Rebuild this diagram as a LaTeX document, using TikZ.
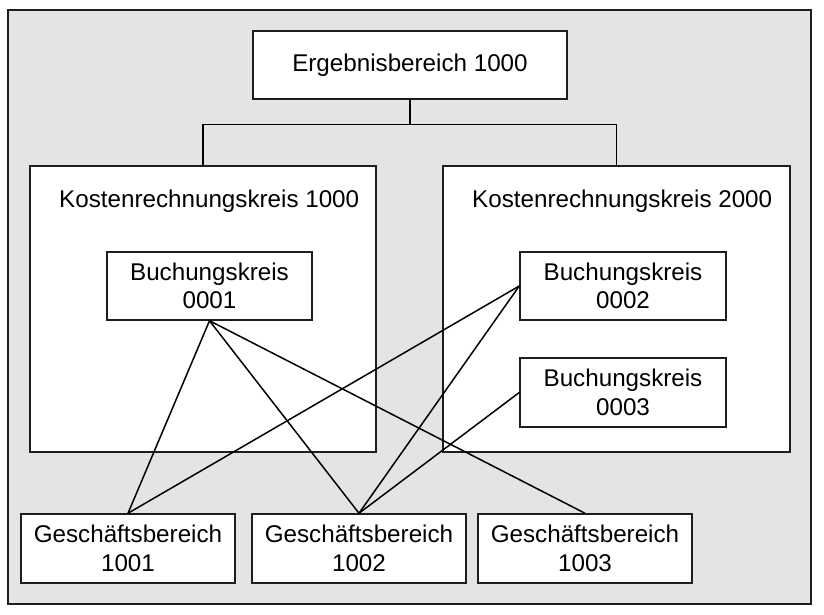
\documentclass[tikz,border=0pt]{standalone}
\usepackage{fontspec}
\setmainfont{Liberation Sans}
\definecolor{bggray}{HTML}{E4E4E4}
\definecolor{edge}{HTML}{1E1E1E}
\begin{document}
\begin{tikzpicture}[x=1pt,y=-1pt,
  every node/.style={font=\fontsize{24.2}{28.5}\selectfont},
  box/.style={draw=edge, line width=1.5pt, fill=white, rectangle, inner sep=0pt, align=center},
  link/.style={draw=black, line width=1.5pt}]
\useasboundingbox (0,0) rectangle (824,615);
\node[box, fill=bggray, minimum width=803pt, minimum height=594pt] (frame) at (409.5,307) {};
\node[box, minimum width=314pt, minimum height=68pt] (erg) at (410,65) {Ergebnisbereich 1000};
\node[box, minimum width=346pt, minimum height=286pt] (k1) at (203,309) {};
\node[box, minimum width=347pt, minimum height=286pt] (k2) at (616.5,309) {};
\node[anchor=base west, inner sep=0pt] (k1label) at (59,207) {Kostenrechnungskreis 1000};
\node[anchor=base west, inner sep=0pt] (k2label) at (472,207) {Kostenrechnungskreis 2000};
\node[box, minimum width=205pt, minimum height=68pt] (b1) at (209.5,286) {Buchungskreis\\0001};
\node[box, minimum width=206pt, minimum height=68pt] (b2) at (623,286) {Buchungskreis\\0002};
\node[box, minimum width=206pt, minimum height=69pt] (b3) at (623,392.5) {Buchungskreis\\0003};
\node[box, minimum width=214pt, minimum height=69pt] (g1) at (128,548.5) {Geschäftsbereich\\1001};
\node[box, minimum width=214pt, minimum height=69pt] (g2) at (359,548.5) {Geschäftsbereich\\1002};
\node[box, minimum width=214pt, minimum height=69pt] (g3) at (585,548.5) {Geschäftsbereich\\1003};
\coordinate (bar) at (410,124.5);
\draw[link] (erg.south) -- (bar);
\draw[link] (k1.north) |- (bar) -| (k2.north);
\draw[link] (b1.south) -- (g1.north);
\draw[link] (b1.south) -- (g2.north);
\draw[link] (b1.south) -- (g3.north);
\draw[link] (b2.west) -- (g1.north);
\draw[link] (b2.west) -- (g2.north);
\draw[link] (b3.west) -- (g2.north);
\end{tikzpicture}
\end{document}
